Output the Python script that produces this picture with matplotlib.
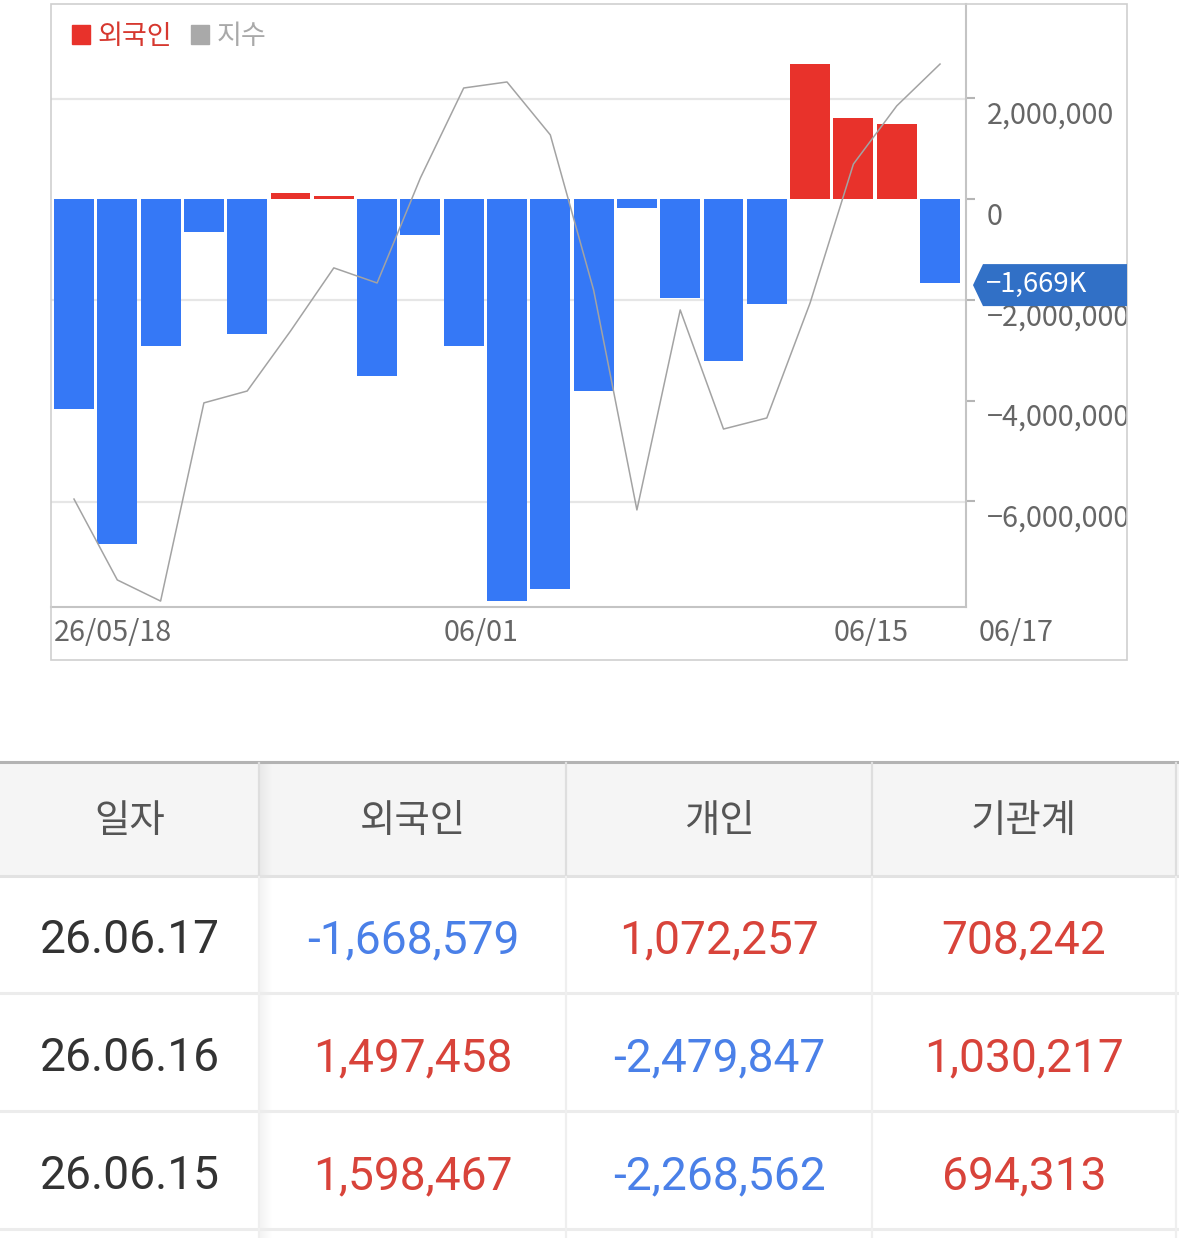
import matplotlib
matplotlib.use('Agg')
import matplotlib.pyplot as plt
from matplotlib.patches import Patch, Rectangle, Polygon
from matplotlib.transforms import ScaledTranslation, Bbox, blended_transform_factory
import numpy as np

W, H = 1179, 1238
plt.rcParams['font.family'] = ['Noto Sans CJK KR', 'DejaVu Sans']

# 외국인 net buying, 26/05/18 .. 26/06/17 (21 trading days)
foreign = [-4160000, -6840000, -2910000, -650000, -2670000, 125000, 60000,
           -3510000, -710000, -2910000, -7970000, -7730000, -3800000, -170000,
           -1960000, -3210000, -2080000, 2680000, 1598467, 1497458, -1668579]
# index (지수) line
index_vals = [2501.3, 2461.1, 2450.6, 2549.1, 2555.0, 2584.8, 2616.2, 2608.7,
              2660.9, 2705.6, 2708.6, 2682.3, 2605.2, 2495.9, 2595.3, 2536.1,
              2541.6, 2598.8, 2667.8, 2696.7, 2717.5]
index_grid = [2500, 2600, 2700]

x_labels = ['26/05/18', '06/01', '06/15', '06/17']
x_label_pos = [0, 9, 18, 20]
y_ticks = [2000000, 0, -2000000, -4000000, -6000000]

table_header = ['일자', '외국인', '개인', '기관계']
table_dates = ['26.06.17', '26.06.16', '26.06.15']
table_indiv = [1072257, -2479847, -2268562]
table_inst = [708242, 1030217, 694313]
table_foreign = foreign[::-1][:3]

BLUE = '#3578f6'
RED = '#e8322b'
LINE = '#a3a3a3'
TXT_BLUE = '#4a80e8'
TXT_RED = '#d8433a'
AX_FS = 20.7

fig = plt.figure(figsize=(W / 100, H / 100), dpi=100)


def px(l, t, r, b):
    return [l / W, 1 - b / H, (r - l) / W, (b - t) / H]


ax = fig.add_axes(px(51, 4.3, 966, 606.7))
x = np.arange(len(foreign))
ax.bar(x, foreign, width=0.92, color=[RED if v > 0 else BLUE for v in foreign], zorder=2)
ax.set_xlim(-0.531, 20.6)
ax.set_ylim(-8.089e6, 3.863e6)

ax2 = ax.twinx()
ax2.plot(x, index_vals, color=LINE, lw=1.1, zorder=3)
ax2.set_ylim(2447.8, 2747.2)
ax2.set_yticks(index_grid)
ax2.tick_params(left=False, right=False, labelleft=False, labelright=False)
for s in ax2.spines.values():
    s.set_visible(False)

# grid lines follow the index axis
for v in index_grid:
    d = ax2.transData.transform((0, v))
    ym = ax.transData.inverted().transform(d)[1]
    ax.axhline(ym, color='#e6e6e6', lw=1.6, zorder=0)

ax.yaxis.tick_right()
ax.set_yticks(y_ticks)
ax.set_yticklabels([f"{v:,}".replace('-', '\u2212') for v in y_ticks])
ax.tick_params(axis='y', length=6.5, width=1.5, color='#b5b5b5', pad=8.4,
               labelsize=AX_FS, labelcolor='#666666')
ax.set_xticks([])
off = ScaledTranslation(0, -0.14, fig.dpi_scale_trans)
clip = Bbox.from_extents(0, 0, 1127, H)
for lab in ax.get_yticklabels():
    lab.set_transform(lab.get_transform() + off)
    lab.set_clip_on(True)
    lab.set_clip_box(clip)

for s in ['left', 'top']:
    ax.spines[s].set_visible(False)
for s in ['right', 'bottom']:
    ax.spines[s].set_color('#c4c4c4')
    ax.spines[s].set_linewidth(1.5)

# date labels, left aligned at bar edges
xt = blended_transform_factory(ax.transData, ax.transAxes) + ScaledTranslation(0, -0.26, fig.dpi_scale_trans)
for lab, p in zip(x_labels, x_label_pos):
    if p == len(foreign) - 1:
        ax.text(1, 0, lab, transform=ax.transAxes + ScaledTranslation(0.13, -0.26, fig.dpi_scale_trans),
                ha='left', va='center', fontsize=AX_FS, color='#666666', clip_on=False)
    else:
        ax.text(p - 0.46, 0, lab, transform=xt, ha='left', va='center',
                fontsize=AX_FS, color='#666666', clip_on=False)

ax.legend(handles=[Patch(color=RED), Patch(color='#a9a9a9')], labels=['외국인', '지수'],
          labelcolor=['#d6382f', '#a9a9a9'], loc='upper left',
          bbox_to_anchor=(21 / 915, 1 - (23 - 4.3) / 602.4), ncol=2, frameon=False,
          fontsize=19.5, handlelength=0.67, handleheight=0.67, handletextpad=0.26,
          columnspacing=0.72, borderpad=0, borderaxespad=0)

# overlay in pixel coordinates: frame, tooltip, table
ov = fig.add_axes([0, 0, 1, 1], zorder=10)
ov.set_xlim(0, W)
ov.set_ylim(H, 0)
ov.axis('off')
ov.patch.set_alpha(0)

ov.add_patch(Rectangle((51, 4.3), 1127 - 51, 660 - 4.3, fill=False, ec='#cfcfcf', lw=1.2))

last = foreign[-1]
ty = H - ax.transData.transform((0, last))[1] + 2
ov.add_patch(Polygon([(973, ty), (983, ty - 21), (1127, ty - 21), (1127, ty + 21), (983, ty + 21)],
                     closed=True, color='#3170c6', lw=0))
ov.text(986, ty - 1, f"{last / 1000:,.0f}K".replace('-', '\u2212'), color='white',
        fontsize=19.8, ha='left', va='center')

# table
ov.add_patch(Rectangle((0, 763), W, 113, color='#f5f5f5', lw=0))
ov.plot([0, W], [762, 762], color='#b3b3b3', lw=2.2)
ov.plot([0, W], [876, 876], color='#e2e2e2', lw=2.2)
for yl in [993, 1111, 1229]:
    ov.plot([0, W], [yl, yl], color='#ececec', lw=2.2)
for xc in [259, 566, 872, 1176]:
    ov.plot([xc, xc], [763, 876], color='#dedede', lw=1.6)
    ov.plot([xc, xc], [877, H], color='#efefef', lw=1.6)
for i in range(12):
    ov.add_patch(Rectangle((260 + i, 763), 1, H - 763, color='#000000', alpha=0.045 * (1 - i / 12), lw=0))

col_x = [130, 413, 719, 1024]
for cx, hd in zip(col_x, table_header):
    ov.text(cx, 821, hd, ha='center', va='center', fontsize=27.7, color='#555555')

row_y = [940, 1058, 1176]
for ry, d, f, p, n in zip(row_y, table_dates, table_foreign, table_indiv, table_inst):
    ov.text(col_x[0], ry, d, ha='center', va='center', fontsize=33.2, color='#333333', family='Roboto')
    for cx, v in zip(col_x[1:], [f, p, n]):
        ov.text(cx, ry, f"{v:,}", ha='center', va='center', fontsize=33.2,
                color=TXT_BLUE if v < 0 else TXT_RED, family='Roboto')

fig.savefig('out.png', dpi=100, facecolor='white')
